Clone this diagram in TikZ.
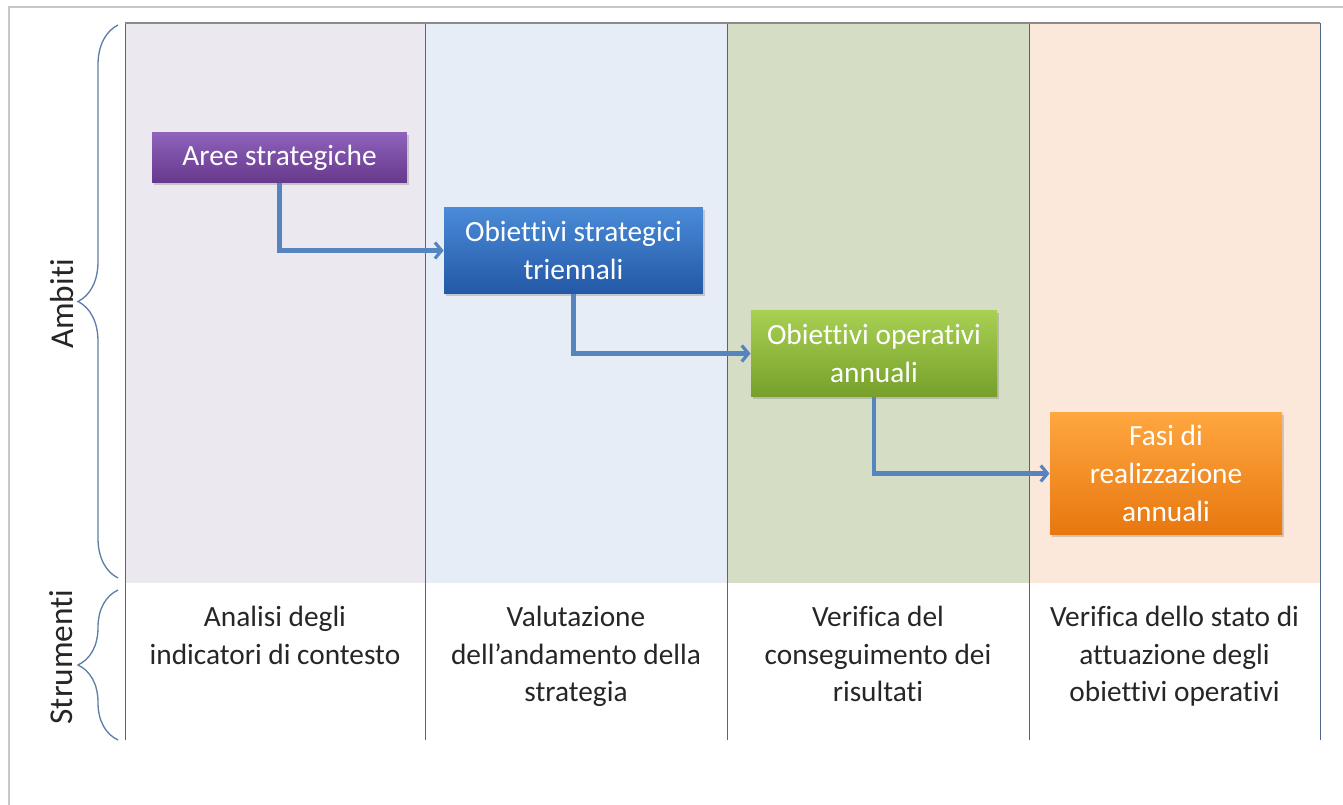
\documentclass[tikz,border=0pt]{standalone}
\usepackage{fontspec}
\setmainfont{Carlito}[Ligatures=NoCommon]
\usetikzlibrary{shadows,decorations.pathreplacing,arrows.meta}

\definecolor{framegray}{HTML}{C8C8C8}
\definecolor{bgpurple}{HTML}{ECE8F0}
\definecolor{bgblue}{HTML}{E7EDF6}
\definecolor{bggreen}{HTML}{D5DDC5}
\definecolor{bgpeach}{HTML}{FBE8DB}
\definecolor{colline}{HTML}{4F6688}
\definecolor{topline}{HTML}{8A8A8A}
\definecolor{bracecol}{HTML}{5E7EA8}
\definecolor{arrowblue}{HTML}{5584BE}
\definecolor{textgray}{HTML}{262626}
\definecolor{purpletop}{HTML}{8F62BC}
\definecolor{purplebot}{HTML}{66398C}
\definecolor{bluetop}{HTML}{4A8BD8}
\definecolor{bluebot}{HTML}{2358A6}
\definecolor{greentop}{HTML}{A8D052}
\definecolor{greenbot}{HTML}{77A02B}
\definecolor{orangetop}{HTML}{FFA740}
\definecolor{orangebot}{HTML}{E8770F}

\tikzset{every picture/.style={line width=0.75pt}}
\tikzset{
  stepbox/.style={rectangle, inner sep=0pt, align=center, text=white,
    font=\fontsize{22}{28.5}\selectfont,
    drop shadow={opacity=0.35, shadow xshift=1.5pt, shadow yshift=-2pt}},
  toolnote/.style={inner sep=0pt, align=center, anchor=north, text=textgray,
    font=\fontsize{22}{28}\selectfont},
  sidelabel/.style={inner sep=0pt, text=textgray, font=\fontsize{25}{30}\selectfont},
  flow/.style={draw=arrowblue, line width=3.4pt, -{Straight Barb[length=5pt,width=12pt,line width=2.4pt]}},
  sidebrace/.style={draw=bracecol, line width=1pt, decorate, decoration={brace, amplitude=30pt}}
}

\begin{document}
\begin{tikzpicture}[x=0.75pt,y=0.75pt,yscale=-1,xscale=1]
  \path[use as bounding box] (0,0) rectangle (1343,805);

  %Frame
  \draw[framegray, line width=1.5pt] (9,805) -- (9,7) -- (1343,7);

  %Column backgrounds
  \fill[bgpurple] (125,23) rectangle (425,583);
  \fill[bgblue] (425,23) rectangle (727,583);
  \fill[bggreen] (727,23) rectangle (1029,583);
  \fill[bgpeach] (1029,23) rectangle (1320,583);

  %Column lines
  \draw[colline] (125,23) -- (125,740);
  \draw[colline] (425,23) -- (425,740);
  \draw[colline] (727,23) -- (727,740);
  \draw[colline] (1029,23) -- (1029,740);
  \draw[colline] (1320,23) -- (1320,740);
  \draw[topline, line width=1.5pt] (125,23) -- (1320,23);

  %Braces
  \draw[sidebrace] (118,578) -- (118,25);
  \draw[sidebrace] (118,740) -- (118,590);

  % Side labels
  \node[sidelabel, rotate=90] (ambiti) at (62,304) {Ambiti};
  \node[sidelabel, rotate=90] (strumenti) at (61,657) {Strumenti};

  %Boxes
  \node[stepbox, minimum width=191pt, minimum height=38pt,
    top color=purpletop, bottom color=purplebot] (aree) at (279.5,157.5) {Aree strategiche};
  \node[stepbox, minimum width=194pt, minimum height=65pt,
    top color=bluetop, bottom color=bluebot] (obstrat) at (573.5,250.5) {Obiettivi strategici\\triennali};
  \node[stepbox, minimum width=184.5pt, minimum height=65pt,
    top color=greentop, bottom color=greenbot] (oboper) at (874,353.5) {Obiettivi operativi\\annuali};
  \node[stepbox, minimum width=174pt, minimum height=92pt,
    top color=orangetop, bottom color=orangebot] (fasi) at (1166,473.5) {Fasi di\\realizzazione\\annuali};

  %Connectors
  \draw[flow] (aree.south) |- (obstrat.west);
  \draw[flow] (obstrat.south) |- (oboper.west);
  \draw[flow] (oboper.south) |- (fasi.west);

  % Text Node
  \node[toolnote] (analisi) at (275,606) {Analisi degli\\indicatori di contesto};
  % Text Node
  \node[toolnote] (valutazione) at (576,606) {Valutazione\\dell’andamento della\\strategia};
  % Text Node
  \node[toolnote] (conseguimento) at (878,606) {Verifica del\\conseguimento dei\\risultati};
  % Text Node
  \node[toolnote] (attuazione) at (1174.5,606) {Verifica dello stato di\\attuazione degli\\obiettivi operativi};

\end{tikzpicture}
\end{document}
